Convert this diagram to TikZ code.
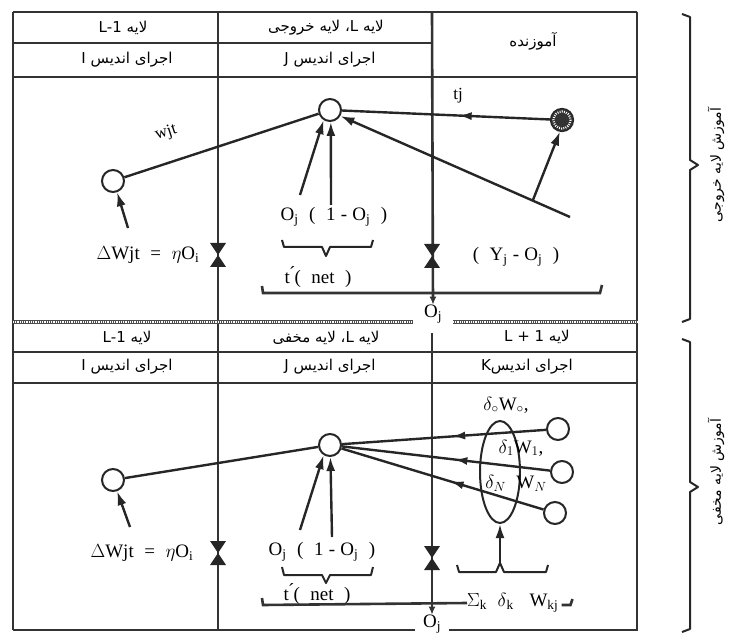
\RequirePackage{fix-cm}
\documentclass[tikz,border=0pt]{standalone}
\usepackage{fontspec}
\setmainfont{Liberation Serif}
\newfontfamily\fa[Script=Arabic]{DejaVu Sans}
\TeXXeTstate=1
\usetikzlibrary{arrows.meta,decorations.markings,calc,shapes.geometric}

\tikzset{
  ink/.style={draw=black!85, line width=2.4pt},
  frame/.style={draw=black!80, line width=2.6pt},
  unit/.style={circle, draw=black!85, line width=2pt, fill=white,
               minimum size=22pt, inner sep=0pt},
  feed/.style={ink, -{Latex[length=14pt,width=9pt]}},
  thinfeed/.style={frame, -{Latex[length=8pt,width=7pt]}},
  midarrow/.style={ink, postaction={decorate},
    decoration={markings, mark=at position #1 with
      {\arrow{Latex[length=13pt,width=8pt]}}}},
  hdr/.style={font=\fa\fontsize{15}{17}\selectfont, inner sep=0pt},
  side/.style={font=\fa\fontsize{14}{16}\selectfont, inner sep=0pt, rotate=90},
  lbl/.style={font=\fontsize{19}{21}\selectfont, inner sep=0pt},
  sepline/.style={line width=4.5pt, draw=black!70,
    postaction={draw=white, line width=2.6pt, dash pattern=on 0.9pt off 0.9pt}},
  hourglass/.pic={\fill[black!85] (-8,-12) -- (8,-12) -- (0,0) -- cycle
                                (-8,12) -- (8,12) -- (0,0) -- cycle;},
}

\begin{document}
\begin{tikzpicture}[x=1pt, y=-1pt]
\useasboundingbox (0,0) rectangle (747,636);

% ---------- table frame ----------
\draw[frame] (13,12) -- (637,12);
\draw[frame] (13,12) -- (13,630);
\draw[frame] (637,12) -- (637,631);
\draw[frame] (218,12) -- (218,630);
\draw[frame] (13,43) -- (432,43);
\draw[frame] (13,77) -- (637,77);
\draw[frame] (13,352) -- (637,352);
\draw[frame] (13,383) -- (637,383);
\draw[frame] (13,630) -- (415,630);
\draw[frame] (449,630) -- (637,630);
\draw[sepline] (13,322) -- (413,322);
\draw[sepline] (453,322) -- (637,322);

% ---------- header cells ----------
\node[hdr] (h1) at (123,28) {\beginR لایه \beginL L-1\endL\endR};
\node[hdr] (h2) at (326,28) {\beginR لایه \beginL L\endL، لایه خروجی\endR};
\node[hdr] (h3) at (533,41) {\beginR آموزنده\endR};
\node[hdr] (h4) at (127,60) {\beginR اجرای اندیس \beginL I\endL\endR};
\node[hdr] (h5) at (330,60) {\beginR اجرای اندیس \beginL J\endL\endR};

\node[hdr] (g1) at (127,338) {\beginR لایه \beginL L-1\endL\endR};
\node[hdr] (g2) at (326,338) {\beginR لایه \beginL L\endL، لایه مخفی\endR};
\node[hdr] (g3) at (537,337) {\beginR لایه \beginL L + 1\endL\endR};
\node[hdr] (g4) at (127,367) {\beginR اجرای اندیس \beginL I\endL\endR};
\node[hdr] (g5) at (330,367) {\beginR اجرای اندیس \beginL J\endL\endR};
\node[hdr] (g6) at (527,367) {\beginR اجرای اندیس\beginL K\endL\endR};

% ---------- output-layer training ----------
\node[lbl] (Oj1) at (433,314) {O\textsubscript{j}};
\draw[thinfeed] (432,12) -- (Oj1.north);
\pic at (218,255) {hourglass};
\pic at (432,256) {hourglass};

\node[unit] (nI1) at (113,181) {};
\node[unit] (nJ1) at (330,110) {};
\node[circle, minimum size=23pt, inner sep=0pt, fill=black!80] (nT) at (562,120) {};
\draw[white, line width=2.2pt, dash pattern=on 0.9pt off 1.3pt] (nT.center) circle[radius=8.5];
\draw[black!85, line width=1.2pt] (nT.center) circle[radius=11.5];

\draw[ink] (nI1) -- (nJ1);
\node[font=\fontsize{17}{19}\selectfont, rotate=18] (wjt) at (166,133) {wjt};
\draw[midarrow=0.44] (nT) -- (nJ1);
\node[font=\fontsize{17}{19}\selectfont] (tj) at (458,96) {tj};

\coordinate (ylow) at (570,217);
\draw[feed] (ylow) -- (nJ1.-30);
\coordinate (ytap) at ($(ylow)!0.155!(nJ1.center)$);
\draw[feed] (ytap) -- (nT.-100);

\coordinate (a1) at (300,195);
\coordinate (a2) at (331,205);
\draw[feed] (a1) -- (nJ1.-122);
\draw[feed] (a2) -- (nJ1.-86);
\coordinate (a3) at (128,228);
\draw[feed] (a3) -- (nI1.-70);

\node[lbl] (dw1) at (148,255) {$\Delta$Wjt\;\;=\;\;$\eta$O\textsubscript{i}};
\node[lbl] (oo1) at (334,217) {O\textsubscript{j}\;\;(\;\;1\;-\;O\textsubscript{j}\;\;)};
\node[lbl] (yo1) at (516,257) {(\;\;Y\textsubscript{j}\;-\;O\textsubscript{j}\;\;)};
\draw[ink, line width=2pt, line join=round]
  (282,240) -- (284,247) -- (322,247) -- (326,256) -- (330,247) -- (371,247) -- (373,240);
\node[lbl] (fn1) at (318,277) {t\'{}(\;\;net\;\;)};
\draw[frame] (262,286) -- (263,293) -- (600,293) -- (602,285);

% ---------- hidden-layer training ----------
\node[lbl] (Oj2) at (432,624) {O\textsubscript{j}};
\draw[thinfeed] (432,333) -- (Oj2.north);
\pic at (218,553) {hourglass};
\pic at (432,558) {hourglass};

\node[unit] (nI2) at (113,480) {};
\node[unit] (nJ2) at (330,445) {};
\node[unit] (nK0) at (558,429) {};
\node[unit] (nK1) at (562,472) {};
\node[unit] (nKN) at (555,513) {};

\draw[ink] (nI2) -- (nJ2);
\draw[midarrow=0.46] (nK0) -- (nJ2);
\draw[midarrow=0.46] (nK1) -- (nJ2);
\draw[midarrow=0.46] (nKN) -- (nJ2);

\node[ellipse, draw=black!85, line width=2pt, minimum width=40pt,
      minimum height=102pt, inner sep=0pt] (sumset) at (500,472) {};
\node[lbl] (d0) at (506,405) {$\delta_{\circ}$W$_{\circ}$,};
\node[lbl] (d1) at (521,448) {$\delta_{1}$W$_{1}$,};
\node[lbl] (dN) at (516,483) {$\delta_{N}$\;\;W$_{N}$};

\coordinate (bt) at (500,563);
\draw[feed] (bt) -- (sumset.south);
\draw[ink, line width=2pt, line join=round]
  (457,565) -- (459,572) -- (496,572) -- (500,563) -- (504,572) -- (546,572) -- (548,565);

\coordinate (b1) at (300,530);
\coordinate (b2) at (332,537);
\draw[feed] (b1) -- (nJ2.-122);
\draw[feed] (b2) -- (nJ2.-88);
\coordinate (b3) at (130,527);
\draw[feed] (b3) -- (nI2.-70);

\node[lbl] (dw2) at (142,553) {$\Delta$Wjt\;\;=\;\;$\eta$O\textsubscript{i}};
\node[lbl] (oo2) at (322,552) {O\textsubscript{j}\;\;(\;\;1\;-\;O\textsubscript{j}\;\;)};
\draw[ink, line width=2pt, line join=round]
  (282,567) -- (284,575) -- (322,575) -- (326,583) -- (330,575) -- (371,575) -- (373,567);
\node[lbl] (fn2) at (317,594) {t\'{}(\;\;net\;\;)};
\node[lbl, anchor=west] (sk) at (467,603) {$\Sigma$\textsubscript{k}\;\;$\delta$\textsubscript{k}\;\;\;W\textsubscript{kj}};
\draw[frame] (262,598) -- (263,605) -- (sk.west);
\draw[frame] (sk.east) ++(3,2) coordinate (hk) -- ++(9,0) -- ++(2,-6);

% ---------- side braces ----------
\draw[ink, line width=2pt, line join=round]
  (682,14) -- (690,17) -- (690,160) -- (698,165) -- (690,170) -- (690,319) -- (682,322);
\draw[ink, line width=2pt, line join=round]
  (682,339) -- (690,342) -- (690,482) -- (698,487) -- (690,492) -- (690,629) -- (682,632);
\node[side] (s1) at (716,165) {\beginR آموزش لایه خروجی\endR};
\node[side] (s2) at (716,472) {\beginR آموزش لایه مخفی\endR};

\end{tikzpicture}
\end{document}
